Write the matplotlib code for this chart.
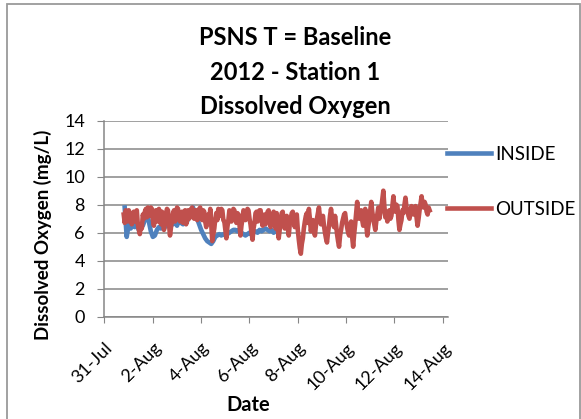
import numpy as np
import pandas as pd
import matplotlib
matplotlib.use('Agg')
import matplotlib.pyplot as plt
from matplotlib.patches import Rectangle

plt.rcParams['font.family'] = ['Lato', 'DejaVu Sans']

# inside sonde, readings every 2 hours
inside_start = '2012-07-31 20:10'
inside = [7.8, 5.7, 6.6, 6.3, 6.8, 6.4, 6.7, 6.2, 6.6, 6.5, 6.9, 7.6,
          6.8, 6.1, 5.7, 5.8, 6.2, 6.4, 6.3, 6.5, 6.4, 6.6, 6.5, 6.7,
          6.6, 6.8, 6.5, 6.9, 6.7, 6.6, 7.0, 6.8, 7.2, 7.4, 7.8, 7.1,
          7.0, 6.6, 6.2, 5.9, 5.6, 5.4, 5.3, 5.2, 5.4, 5.7, 5.8, 5.9,
          5.8, 5.9, 5.8, 5.9, 6.0, 6.1, 6.2, 6.2, 6.1, 6.2, 6.0, 5.9,
          5.8, 5.9, 6.0, 5.9, 6.0, 6.1, 6.0, 6.2, 6.1, 6.2, 6.3, 6.2,
          6.1, 6.2, 6.0, 6.1]

# outside sonde, hourly readings
outside_start = '2012-07-31 19:12'
outside = [7.3, 6.7, 7.6, 7.2, 6.8, 7.6, 7.4, 6.9, 6.6, 7.2, 7.5, 6.8, 7.1, 7.6, 6.6, 6.2, 5.9, 6.6, 6.3, 7.3, 7.0, 7.5, 7.7, 7.1,
           7.8, 7.2, 7.4, 7.8, 7.7, 6.9, 6.5, 7.3, 7.6, 6.8, 7.2, 7.7, 6.9, 6.6, 7.5, 6.9, 6.2, 6.8, 7.4, 7.7, 7.6, 6.6, 5.8, 6.4,
           6.9, 7.4, 7.6, 6.8, 7.2, 7.8, 7.7, 7.0, 6.8, 7.3, 7.5, 6.7, 7.1, 7.6, 6.6, 6.9, 7.6, 7.0, 7.3, 7.7, 7.8, 7.1, 7.0, 7.6,
           7.6, 6.9, 7.2, 7.7, 7.8, 7.0, 6.9, 7.6, 7.5, 6.8, 6.4, 7.1, 7.3, 6.8, 7.7, 6.6, 5.4, 5.9, 6.3, 7.0, 7.4, 6.9, 7.7, 7.3,
           7.2, 7.7, 7.6, 6.9, 6.8, 6.2, 5.6, 6.4, 6.9, 7.6, 7.5, 6.8, 7.1, 7.7, 7.6, 6.9, 6.7, 7.4, 7.3, 6.6, 5.8, 6.5, 7.0, 7.6,
           7.5, 6.9, 7.2, 7.7, 7.6, 7.0, 6.6, 6.0, 5.5, 6.3, 6.7, 7.4, 7.5, 6.8, 7.0, 7.6, 7.6, 6.9, 6.5, 7.2, 7.3, 6.6, 6.9, 7.5,
           7.6, 7.0, 6.4, 6.9, 7.3, 7.5, 6.8, 6.3, 7.4, 6.5, 5.6, 6.2, 6.9, 7.4, 7.5, 6.7, 6.3, 6.9, 7.2, 6.4, 5.8, 6.6, 7.0, 7.4,
           7.5, 6.9, 6.4, 7.0, 7.3, 6.2, 5.5, 4.9, 4.5, 5.2, 5.6, 6.3, 6.8, 7.2, 7.4, 6.7, 7.7, 7.0, 6.1, 6.6, 6.9, 6.2, 5.8, 6.5,
           7.0, 7.4, 7.8, 7.1, 6.6, 7.0, 7.2, 6.5, 6.0, 5.6, 5.3, 6.0, 6.5, 7.2, 7.7, 7.1, 6.8, 6.4, 7.2, 6.6, 5.9, 5.4, 5.0, 5.8,
           6.2, 6.7, 7.0, 7.3, 7.4, 6.8, 6.4, 6.0, 5.8, 6.4, 6.8, 5.7, 5.0, 5.9, 6.6, 7.4, 8.2, 7.4, 7.0, 7.5, 7.6, 6.9, 6.5, 7.2,
           7.7, 6.6, 5.8, 6.4, 6.9, 7.6, 8.2, 7.5, 7.0, 6.6, 6.2, 6.8, 7.3, 7.8, 7.0, 7.4, 7.8, 8.4, 9.0, 7.9, 7.1, 7.5, 6.8, 7.3,
           7.6, 7.0, 7.2, 7.9, 8.6, 7.8, 7.5, 8.0, 7.9, 6.9, 6.2, 6.6, 6.9, 7.6, 7.4, 8.0, 8.5, 7.8, 7.6, 7.2, 7.0, 7.5, 7.9, 7.4,
           7.3, 7.7, 7.9, 7.1, 6.5, 7.0, 7.6, 8.1, 8.6, 8.0, 7.8, 8.2, 8.0, 7.5, 7.3, 7.8, 7.6]

tick_dates = ['2012-07-31', '2012-08-02', '2012-08-04', '2012-08-06',
              '2012-08-08', '2012-08-10', '2012-08-12', '2012-08-14']
tick_labels = ['31-Jul', '2-Aug', '4-Aug', '6-Aug', '8-Aug', '10-Aug', '12-Aug', '14-Aug']

t_in = pd.date_range(inside_start, periods=len(inside), freq='2h')
t_out = pd.date_range(outside_start, periods=len(outside), freq='1h')

blue = '#4F81BD'
red = '#C0504D'
grid_c = '#868686'

fig = plt.figure(figsize=(5.81, 4.19), dpi=100)
ax = fig.add_axes([104.4 / 581, 1 - 316.7 / 419, (447.7 - 104.4) / 581, (316.7 - 120.7) / 419])

l1, = ax.plot(t_in, inside, color=blue, lw=3.3, solid_joinstyle='round')
l2, = ax.plot(t_out, outside, color=red, lw=3.3, solid_joinstyle='round')

ax.set_ylim(0, 14)
ax.set_yticks(range(0, 15, 2))
ax.set_xlim(pd.Timestamp('2012-07-31'), pd.Timestamp('2012-07-31') + pd.Timedelta(days=14.215))
ax.set_xticks(pd.to_datetime(tick_dates))
ax.set_xticklabels(tick_labels, rotation=45, ha='right', rotation_mode='anchor', fontsize=13)
ax.tick_params(axis='y', labelsize=13, length=5, color=grid_c, pad=9)
ax.tick_params(axis='x', length=4.5, color=grid_c, pad=12)
ax.grid(axis='y', color=grid_c, lw=1.1)
ax.set_axisbelow(True)
for s in ['top', 'right']:
    ax.spines[s].set_visible(False)
for s in ['left', 'bottom']:
    ax.spines[s].set_color(grid_c)
    ax.spines[s].set_linewidth(1.1)

ax.set_ylabel('Dissolved Oxygen (mg/L)', fontsize=13.5, fontweight='bold', va='center')
ax.yaxis.set_label_coords(-0.18, 0.42)
ax.set_xlabel('Date', fontsize=14.5, fontweight='bold', va='center')
ax.xaxis.set_label_coords(0.42, -0.45)

fig.text(295 / 581, 1 - 72 / 419, 'PSNS T = Baseline\n2012 - Station 1\nDissolved Oxygen',
         ha='center', va='center', fontsize=17, fontweight='bold', linespacing=1.62)

fig.legend([l1, l2], ['INSIDE', 'OUTSIDE'], loc='upper left',
           bbox_to_anchor=(447 / 581, 1 - 146 / 419), frameon=False,
           fontsize=13.5, handlelength=2.35, handletextpad=0.24, labelspacing=2.02,
           borderaxespad=0, borderpad=0)

fig.add_artist(Rectangle((6.5 / 581, -0.05), (579.5 - 6.5) / 581, 1.05 - 4.5 / 419,
                         transform=fig.transFigure, fill=False, ec='#9a9a9a', lw=1.3))

fig.savefig('out.png', dpi=100)
